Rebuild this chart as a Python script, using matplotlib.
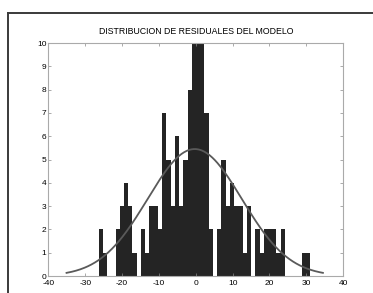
import numpy as np
import matplotlib
matplotlib.use("Agg")
import matplotlib.pyplot as plt
from matplotlib.lines import Line2D

plt.rcParams['font.family'] = ['Liberation Sans', 'DejaVu Sans']
plt.rcParams['axes.unicode_minus'] = False

# histogram of model residuals (50 bins)
bin_lo, bin_hi = -26.4, 31.1
counts = [2, 1, 0, 0, 2, 3, 4, 3, 1, 0,
          2, 1, 3, 3, 2, 7, 5, 3, 6, 3,
          5, 8, 10, 10, 10, 7, 2, 0, 2, 5,
          3, 4, 3, 3, 1, 3, 0, 2, 1, 2,
          2, 2, 1, 2, 0, 0, 0, 0, 1, 1]

# fitted normal curve
fit_mu = -0.3
fit_sigma = 12.8
fit_peak = 5.45
fit_half_span = 34.8

x_ticks = [-40, -30, -20, -10, 0, 10, 20, 30, 40]
y_ticks = list(range(0, 11))

edges = np.linspace(bin_lo, bin_hi, len(counts) + 1)
xs = np.linspace(fit_mu - fit_half_span, fit_mu + fit_half_span, 300)
ys = fit_peak * np.exp(-(xs - fit_mu) ** 2 / (2 * fit_sigma ** 2))

fig = plt.figure(figsize=(3.73, 2.93), dpi=100)
ax = fig.add_axes([0.130, 0.058, 0.790, 0.795])

ax.stairs(counts, edges, fill=True, color='#242424', linewidth=0)
ax.plot(xs, ys, color='#5a5a5a', linewidth=1.3)

ax.set_xlim(-40, 40)
ax.set_ylim(0, 10)
ax.set_xticks(x_ticks)
ax.set_yticks(y_ticks)
ax.tick_params(direction='in', length=2.5, width=0.5, color='#888888',
               labelsize=6.0, top=True, right=True, pad=1.5)
ax.tick_params(axis='x', pad=3.2)
for s in ax.spines.values():
    s.set_color('#aaaaaa')
    s.set_linewidth(0.8)

fig.text(0.525, 0.891, 'DISTRIBUCION DE RESIDUALES DEL MODELO',
         ha='center', va='center', fontsize=6.3)

# outer frame (left and top edges of the screenshot)
fig.add_artist(Line2D([8 / 373, 8 / 373], [0, 1 - 13 / 293],
                      color='#3a3a3a', linewidth=1.4))
fig.add_artist(Line2D([8 / 373, 1], [1 - 13 / 293, 1 - 13 / 293],
                      color='#3a3a3a', linewidth=1.4))

fig.savefig('out.png', dpi=100)
